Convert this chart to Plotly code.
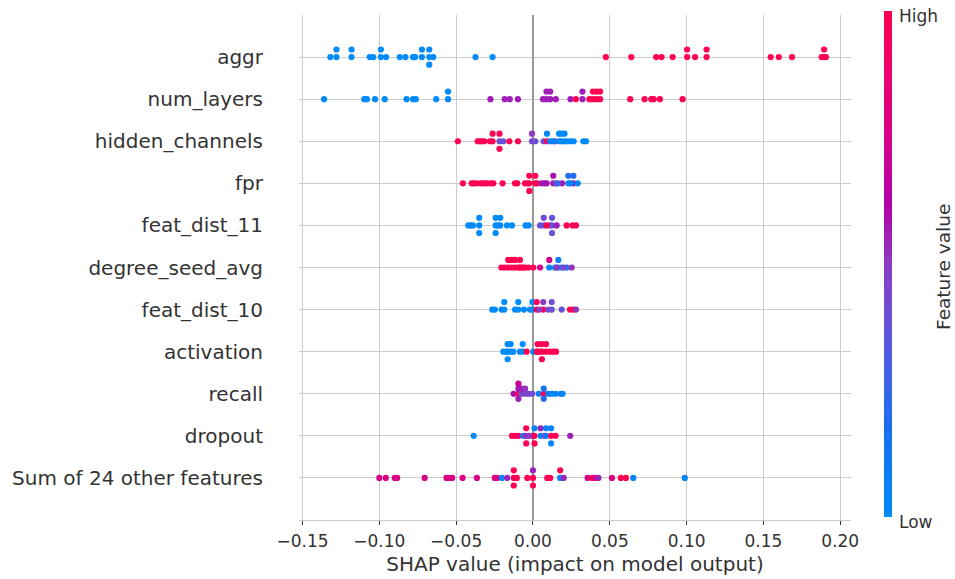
import numpy as np
import plotly.graph_objects as go

# Feature rows, bottom to top (index 0 is drawn at the bottom)
features = ["Sum of 24 other features", "dropout", "recall", "activation",
            "feat_dist_10", "degree_seed_avg", "feat_dist_11", "fpr",
            "hidden_channels", "num_layers", "aggr"]

# SHAP values and normalised feature values per feature
aggr_shap = [-0.1319, -0.1279, -0.1279, -0.1181, -0.1181, -0.1063, -0.1040, -0.0990, -0.0990,
             -0.0956, -0.0867, -0.0830, -0.0781, -0.0767, -0.0723, -0.0723, -0.0675, -0.0675,
             -0.0675, -0.0649, -0.0374, -0.0263,
             0.0474, 0.0640, 0.0802, 0.0837, 0.0909, 0.1003, 0.1003, 0.1055, 0.1130, 0.1130,
             0.1547, 0.1600, 0.1686, 0.1879, 0.1895, 0.1895, 0.1907]
aggr_val = [0.0] * 22 + [1.0] * 17

num_layers_shap = [-0.1360, -0.1098, -0.1081, -0.1028, -0.0965, -0.0823, -0.0781, -0.0763,
                   -0.0630, -0.0553, -0.0553,
                   -0.0277, -0.0184, -0.0151, -0.0098, 0.0065, 0.0088, 0.0088, 0.0112, 0.0112,
                   0.0149, 0.0244, 0.0322, 0.0322,
                   0.0279, 0.0367, 0.0390, 0.0390, 0.0414, 0.0414, 0.0437, 0.0437, 0.0633,
                   0.0726, 0.0770, 0.0786, 0.0826, 0.0974]
num_layers_val = [0.0] * 11 + [0.56] * 13 + [1.0] * 14

hidden_channels_shap = [-0.0489, -0.0360, -0.0345, -0.0332, -0.0317, -0.0280, -0.0263, -0.0263,
                        -0.0218, -0.0218, -0.0218, -0.0193, -0.0154, -0.0098,
                        -0.0006, -0.0006, 0.0015, 0.0069, 0.0091, 0.0091, 0.0141,
                        0.0111, 0.0132, 0.0170, 0.0170, 0.0187, 0.0187, 0.0205, 0.0205,
                        0.0224, 0.0245, 0.0265, 0.0328, 0.0345]
hidden_channels_val = [1.0, 1.0, 1.0, 1.0, 1.0, 1.0, 1.0, 1.0,
                       0.40, 1.0, 1.0, 0.40, 1.0, 1.0,
                       0.45, 0.50, 0.40, 0.40, 1.0, 0.05, 0.50,
                       0.05, 0.05, 0.0, 0.0, 0.0, 0.0, 0.0, 0.0,
                       0.0, 0.0, 0.0, 0.0, 0.0]

fpr_shap = [-0.0456, -0.0399, -0.0384, -0.0369, -0.0343, -0.0328, -0.0313, -0.0297, -0.0276,
            -0.0258, -0.0198, -0.0117, -0.0102, -0.0052, -0.0037, -0.0024, -0.0024, -0.0024,
            0.0015, 0.0015, 0.0028,
            0.0056, 0.0074, 0.0089, 0.0132, 0.0132, 0.0150, 0.0189, 0.0263, 0.0263,
            0.0161, 0.0230, 0.0230, 0.0245, 0.0291]
fpr_val = [1.0] * 21 + [0.58, 0.58, 0.58, 0.58, 0.58, 0.45, 0.58, 0.58, 0.20,
                        0.25, 0.05, 0.20, 0.05, 0.05]

feat_dist_11_shap = [-0.0421, -0.0406, -0.0391, -0.0350, -0.0350, -0.0350, -0.0243, -0.0243,
                     -0.0243, -0.0228, -0.0213, -0.0213, -0.0169, -0.0137, -0.0048, -0.0028,
                     0.0046, 0.0070, 0.0070, 0.0110, 0.0124, 0.0124, 0.0124, 0.0154,
                     0.0089, 0.0219, 0.0258, 0.0280]
feat_dist_11_val = [0.0] * 16 + [0.40, 0.38, 0.40, 0.38, 0.40, 0.38, 0.40, 0.56,
                                 1.0, 1.0, 1.0, 0.95]

degree_seed_avg_shap = [-0.0206, -0.0185, -0.0161, -0.0161, -0.0139, -0.0139, -0.0117, -0.0117,
                        -0.0096, -0.0085, -0.0085, -0.0074, -0.0063, -0.0052, -0.0030, 0.0002,
                        0.0046, 0.0106, 0.0106,
                        0.0143, 0.0165, 0.0165, 0.0187, 0.0219,
                        0.0154, 0.0198, 0.0252]
degree_seed_avg_val = [1.0] * 16 + [0.75, 0.05, 0.75,
                                    0.05, 0.10, 0.05, 0.05, 0.15,
                                    0.50, 0.45, 0.52]

feat_dist_10_shap = [-0.0265, -0.0248, -0.0204, -0.0187, -0.0187, -0.0117, -0.0096, -0.0096,
                     -0.0059, -0.0020, -0.0004, -0.0004,
                     0.0024, 0.0024, 0.0067, 0.0067, 0.0241, 0.0263,
                     0.0041, 0.0100, 0.0122, 0.0122, 0.0187, 0.0280]
feat_dist_10_val = [0.0] * 12 + [1.0, 1.0, 1.0, 0.50, 1.0, 1.0,
                                 0.50, 0.40, 0.40, 0.42, 0.38, 0.52]

activation_shap = [-0.0193, -0.0172, -0.0165, -0.0165, -0.0165, -0.0145, -0.0145, -0.0128,
                   -0.0085, -0.0067, -0.0067, 0.0002,
                   -0.0041, 0.0024, 0.0030, 0.0030, 0.0046, 0.0058, 0.0058, 0.0058,
                   0.0085, 0.0085, 0.0111, 0.0132, 0.0150]
activation_val = [0.0] * 12 + [1.0] * 13

recall_shap = [-0.0126, -0.0095, -0.0095, -0.0095, -0.0095, -0.0074, -0.0074, -0.0051, -0.0051,
               -0.0028, -0.0005, 0.0037, 0.0070, 0.0070, 0.0070,
               0.0100, 0.0123, 0.0147, 0.0181, 0.0193]
recall_val = [0.60, 1.0, 0.56, 0.56, 0.70, 0.45, 0.56, 0.45, 0.52,
              0.45, 0.42, 0.08, 1.0, 0.15, 0.20,
              0.05, 0.05, 0.05, 0.05, 0.05]

dropout_shap = [-0.0386, -0.0137, -0.0114, -0.0093, -0.0063, -0.0044, -0.0044, -0.0044,
                -0.0028, -0.0005, 0.0010, 0.0010, 0.0010, 0.0050, 0.0050, 0.0077,
                0.0085, 0.0085, 0.0118, 0.0118, 0.0118, 0.0147, 0.0242]
dropout_val = [0.0, 1.0, 1.0, 0.90, 0.05, 0.55, 1.0, 1.0,
               0.50, 0.50, 1.0, 0.05, 1.0, 0.05, 0.55, 0.50,
               0.10, 0.05, 1.0, 0.05, 0.05, 1.0, 0.56]

other_shap = [-0.1000, -0.0958, -0.0900, -0.0884, -0.0705, -0.0563, -0.0544, -0.0526, -0.0458,
              -0.0365, -0.0249, -0.0233, -0.0202, -0.0167, -0.0125, -0.0125, -0.0125, -0.0105,
              -0.0037, 0.0000, 0.0000, 0.0000, 0.0093, 0.0112, 0.0177, 0.0177, 0.0200,
              0.0356, 0.0386, 0.0402, 0.0426, 0.0514, 0.0572, 0.0605, 0.0653, 0.0988]
other_val = [0.78] * 12 + [0.05, 0.55, 1.0, 1.0, 1.0, 1.0,
                           1.0, 1.0, 0.55, 1.0, 1.0, 1.0, 0.05, 1.0, 0.55,
                           0.78, 1.0, 0.78, 0.55, 0.78, 1.0, 1.0, 0.05, 0.05]

shap_rows = [other_shap, dropout_shap, recall_shap, activation_shap, feat_dist_10_shap,
             degree_seed_avg_shap, feat_dist_11_shap, fpr_shap, hidden_channels_shap,
             num_layers_shap, aggr_shap]
value_rows = [other_val, dropout_val, recall_val, activation_val, feat_dist_10_val,
              degree_seed_avg_val, feat_dist_11_val, fpr_val, hidden_channels_val,
              num_layers_val, aggr_val]

x_ticks = [-0.15, -0.10, -0.05, 0.0, 0.05, 0.10, 0.15, 0.20]

# red-blue colour map running from low (blue) through purple to high (red)
red_blue = [
    [0.00, "#008bfb"],
    [0.18, "#1a6ef0"],
    [0.35, "#5b5ade"],
    [0.50, "#8c3bc4"],
    [0.62, "#b300a9"],
    [0.80, "#df007e"],
    [1.00, "#ff0052"],
]


def swarm_offsets(values, row_height=0.4):
    """Stack tied values above/below the row centre, beeswarm style."""
    vals = np.round(np.asarray(values, dtype=float), 4)
    order = np.argsort(vals, kind="stable")
    ys = np.zeros(len(vals))
    layer, last = 0, None
    for i in order:
        if vals[i] != last:
            layer = 0
        ys[i] = np.ceil(layer / 2) * ((layer % 2) * 2 - 1)
        layer += 1
        last = vals[i]
    ys *= 0.9 * row_height / np.max(ys + 1)
    return ys


FONT = "DejaVu Sans"
TXT = "#333333"
fig = go.Figure()

for pos, (sv, fv) in enumerate(zip(shap_rows, value_rows)):
    offs = swarm_offsets(sv)
    fig.add_trace(go.Scatter(
        x=sv,
        y=pos + offs,
        mode="markers",
        marker=dict(size=6.2, color=fv, coloraxis="coloraxis", line=dict(width=0)),
        showlegend=False,
        hoverinfo="skip",
    ))

# colour bar: Low / High labels and its vertical caption
CB_TOP, CB_BOTTOM, CB_X = 13, 519, 884
fig.add_annotation(text="High", xref="paper", yref="paper",
                   x=(897 - 299) / 552, y=(520 - 16) / 505,
                   xanchor="left", yanchor="middle", showarrow=False,
                   font=dict(size=17, color=TXT, family=FONT))
fig.add_annotation(text="Low", xref="paper", yref="paper",
                   x=(897 - 299) / 552, y=(520 - 522) / 505,
                   xanchor="left", yanchor="middle", showarrow=False,
                   font=dict(size=17, color=TXT, family=FONT))
fig.add_annotation(text="Feature value", xref="paper", yref="paper",
                   x=(943 - 299) / 552, y=(520 - 267) / 505, textangle=-90,
                   xanchor="center", yanchor="middle", showarrow=False,
                   font=dict(size=18.5, color=TXT, family=FONT))

fig.update_layout(
    width=955,
    height=579,
    margin=dict(l=299, r=104, t=15, b=59),
    paper_bgcolor="white",
    plot_bgcolor="white",
    font=dict(family=FONT, color=TXT),
    coloraxis=dict(
        colorscale=red_blue,
        cmin=0,
        cmax=1,
        colorbar=dict(
            thickness=8,
            len=CB_BOTTOM - CB_TOP,
            lenmode="pixels",
            xref="container",
            yref="container",
            x=CB_X / 955,
            xanchor="left",
            y=1 - CB_TOP / 579,
            yanchor="top",
            xpad=0,
            ypad=0,
            outlinewidth=0,
            showticklabels=False,
            ticks="",
        ),
    ),
    xaxis=dict(
        automargin=False,
        range=[-0.1523, 0.2070],
        tickvals=x_ticks,
        ticktext=[("\u2212" if t < 0 else "") + f"{abs(t):.2f}" for t in x_ticks],
        tickfont=dict(size=17, color=TXT),
        ticks="outside",
        ticklen=4,
        tickcolor=TXT,
        ticklabelstandoff=2,
        showgrid=True,
        gridcolor="#cccccc",
        gridwidth=1,
        zeroline=True,
        zerolinecolor="#999999",
        zerolinewidth=2,
        showline=True,
        linecolor="#cccccc",
        linewidth=1,
        title=dict(text="SHAP value (impact on model output)",
                   font=dict(size=20, color=TXT), standoff=6),
    ),
    yaxis=dict(
        automargin=False,
        range=[-1, len(features)],
        tickvals=list(range(len(features))),
        ticktext=features,
        tickfont=dict(size=20, color=TXT),
        ticks="outside",
        ticklen=31,
        tickcolor="rgba(0,0,0,0)",
        showgrid=True,
        gridcolor="#cccccc",
        gridwidth=1,
        zeroline=False,
        showline=False,
    ),
)

fig.write_html("out.html")
